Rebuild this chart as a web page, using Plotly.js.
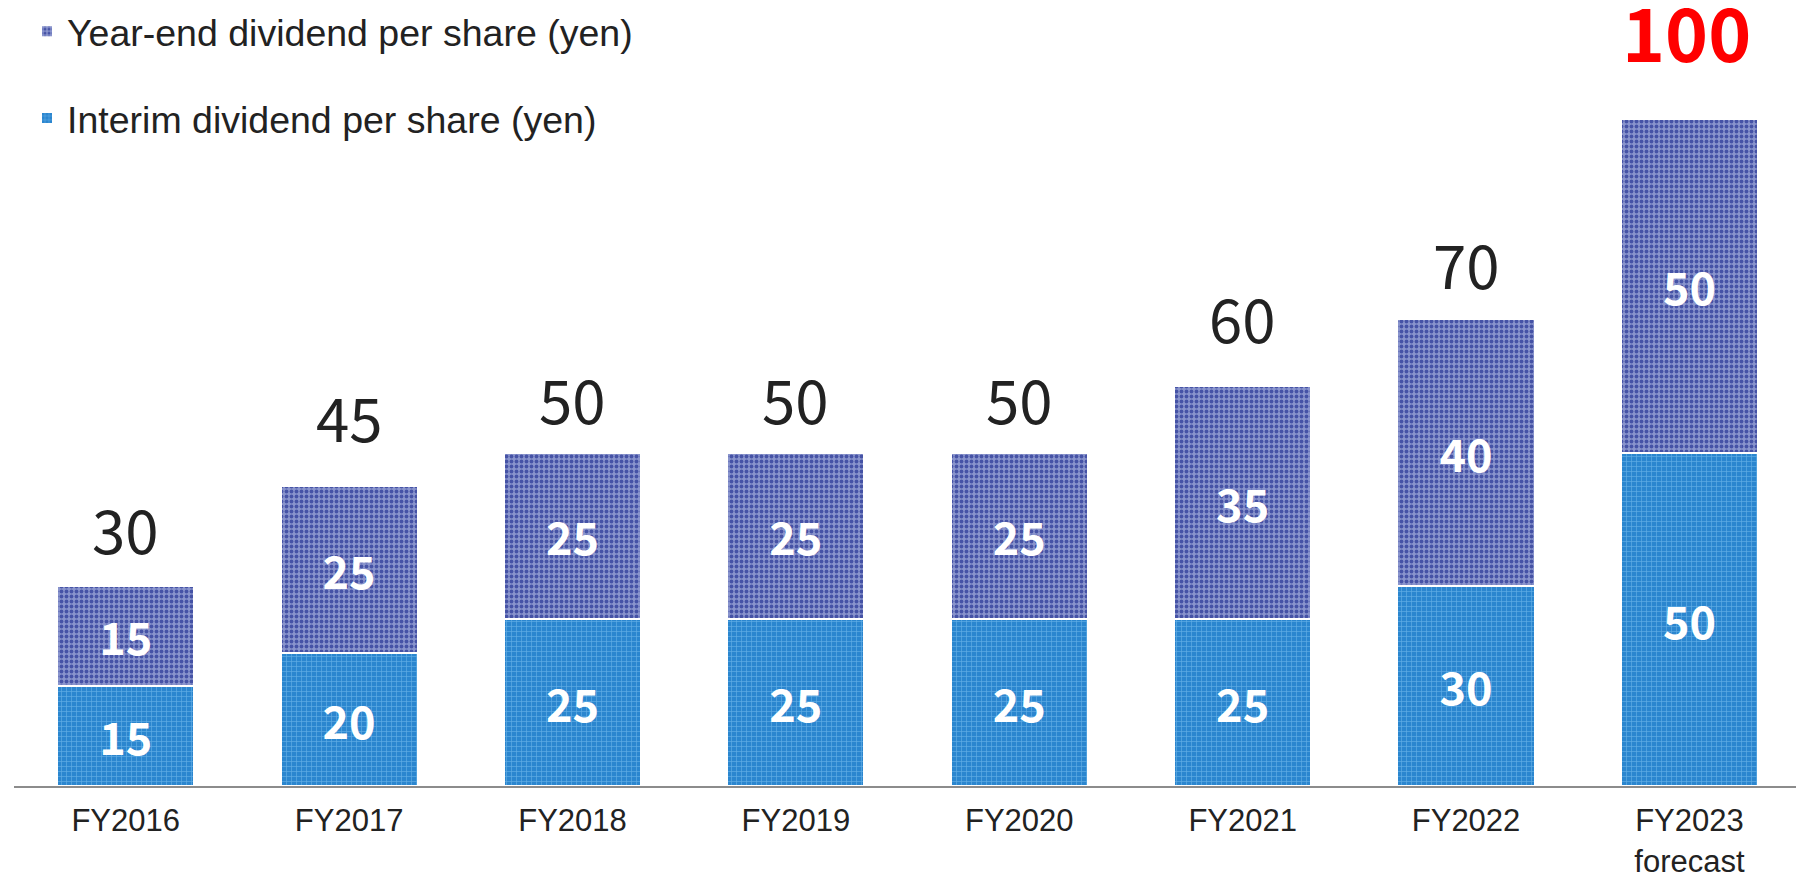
<!DOCTYPE html>
<html>
<head>
<meta charset="utf-8">
<script src="https://cdn.plot.ly/plotly-3.0.1.min.js"></script>
<style>html,body{margin:0;padding:0;background:#fff;}#chart{width:1796px;height:874px;}</style>
</head>
<body>
<div id="chart"></div>
<script>
const categories = ["FY2016","FY2017","FY2018","FY2019","FY2020","FY2021","FY2022","FY2023<br>forecast"];
const interim = [15, 20, 25, 25, 25, 25, 30, 50];
const yearEnd = [15, 25, 25, 25, 25, 35, 40, 50];
const seriesNames = ["Interim dividend per share (yen)", "Year-end dividend per share (yen)"];

const totals = interim.map((v, i) => v + yearEnd[i]);

// label offsets above the bar tops (pixels, styling only)
const totalLabelShift = [58, 70, 55, 55, 55, 69, 57, 89];

const insideFont = {family: "Noto Sans CJK JP, Noto Sans, sans-serif", size: 45, color: "#ffffff", weight: 700};

const traces = [
  {
    type: "bar", name: seriesNames[0], x: categories, y: interim,
    text: interim.map(String), textposition: "inside", insidetextanchor: "middle",
    textfont: insideFont, constraintext: "none", hoverinfo: "skip",
    legendgroup: "a", legendrank: 2,
    marker: {color: "#2f8ad0", line: {color: "#ffffff", width: 2},
      pattern: {shape: "+", bgcolor: "#2b86cf", fgcolor: "#62ace4", size: 5, solidity: 0.25, fillmode: "replace"}}
  },
  {
    type: "bar", name: seriesNames[1], x: categories, y: yearEnd,
    text: yearEnd.map(String), textposition: "inside", insidetextanchor: "middle",
    textfont: insideFont, constraintext: "none", hoverinfo: "skip",
    legendgroup: "b", legendrank: 1,
    marker: {color: "#6f7bbd", line: {color: "#ffffff", width: 2},
      pattern: {shape: ".", bgcolor: "#8a95cd", fgcolor: "#4653a6", size: 5, solidity: 0.45, fillmode: "replace"}}
  }
];

const annotations = totals.map((t, i) => {
  const last = i === totals.length - 1;
  return {
    x: categories[i], y: t, xref: "x", yref: "y",
    text: String(t), showarrow: false, yanchor: "middle",
    yshift: totalLabelShift[i], xshift: last ? -3 : 0,
    font: last
      ? {family: "Noto Sans CJK JP, Noto Sans, sans-serif", size: 73, color: "#ff0000", weight: 700}
      : {family: "Noto Sans CJK JP, Noto Sans, sans-serif", size: 60, color: "#222222"}
  };
});

const layout = {
  width: 1796, height: 874,
  paper_bgcolor: "#ffffff", plot_bgcolor: "#ffffff",
  margin: {l: 14, r: 0, t: 119, b: 88, pad: 0},
  barmode: "stack", bargap: 0.386,
  showlegend: true,
  legend: {
    x: 0.0073, xanchor: "left", y: 1.178, yanchor: "top",
    traceorder: "grouped", tracegroupgap: 35,
    font: {family: "Liberation Sans, Arial, sans-serif", size: 37.5, color: "#222222"},
    bgcolor: "rgba(0,0,0,0)", itemclick: false
  },
  xaxis: {
    type: "category", range: [-0.5, 7.477], automargin: false,
    showline: true, linecolor: "#8c8c8c", linewidth: 2,
    showgrid: false, zeroline: false, ticks: "",
    tickfont: {family: "Liberation Sans, Arial, sans-serif", size: 31, color: "#222222"},
    ticklabelstandoff: 6
  },
  yaxis: {
    range: [0, 100], visible: false, showgrid: false, zeroline: false, automargin: false
  },
  annotations: annotations
};

Plotly.newPlot("chart", traces, layout, {displayModeBar: false, staticPlot: true});
</script>
</body>
</html>
